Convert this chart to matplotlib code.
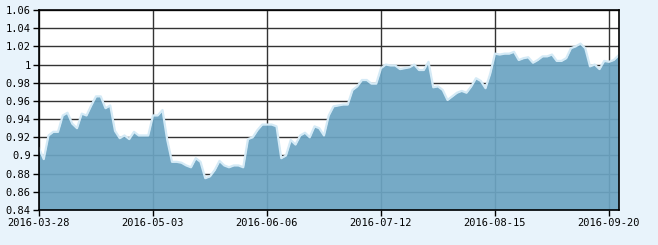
import matplotlib
matplotlib.use("Agg")
import matplotlib.pyplot as plt
import numpy as np

nav = [0.908, 0.896, 0.922, 0.926, 0.926, 0.944, 0.947, 0.935, 0.930, 0.946,
       0.944, 0.955, 0.965, 0.965, 0.952, 0.955, 0.927, 0.919, 0.922, 0.918,
       0.926, 0.922, 0.922, 0.922, 0.944, 0.944, 0.950, 0.917, 0.893, 0.893,
       0.892, 0.889, 0.887, 0.897, 0.893, 0.875, 0.877, 0.884, 0.894, 0.889,
       0.887, 0.889, 0.889, 0.887, 0.918, 0.920, 0.928, 0.934, 0.934, 0.934,
       0.932, 0.897, 0.900, 0.917, 0.912, 0.922, 0.925, 0.920, 0.932, 0.930,
       0.922, 0.944, 0.954, 0.955, 0.956, 0.956, 0.972, 0.976, 0.983, 0.983,
       0.979, 0.979, 0.996, 1.000, 0.999, 0.999, 0.995, 0.996, 0.997, 1.000,
       0.994, 0.994, 1.003, 0.975, 0.976, 0.972, 0.961, 0.965, 0.969, 0.971,
       0.969, 0.976, 0.985, 0.982, 0.974, 0.990, 1.012, 1.011, 1.012, 1.012,
       1.014, 1.005, 1.007, 1.008, 1.002, 1.005, 1.009, 1.009, 1.011, 1.004,
       1.004, 1.007, 1.018, 1.020, 1.023, 1.018, 0.998, 1.000, 0.995, 1.004,
       1.003, 1.005, 1.010]

tick_labels = ["2016-03-28", "2016-05-03", "2016-06-06", "2016-07-12",
               "2016-08-15", "2016-09-20"]
tick_index = [0, 24, 48, 72, 96, 120]
y_ticks = [0.84, 0.86, 0.88, 0.90, 0.92, 0.94, 0.96, 0.98, 1.00, 1.02, 1.04, 1.06]
y_labels = ["0.84", "0.86", "0.88", "0.9", "0.92", "0.94", "0.96", "0.98",
            "1", "1.02", "1.04", "1.06"]

W, H = 658, 245
fig = plt.figure(figsize=(W / 100, H / 100), dpi=100)
fig.patch.set_facecolor("#e8f3fb")
ax = fig.add_axes([39 / W, 35 / H, (618.5 - 39) / W, 200 / H])
ax.set_facecolor("white")

x = np.arange(len(nav))
ax.set_xlim(0, len(nav) - 1)
ax.set_ylim(0.84, 1.06)

ax.set_yticks(y_ticks)
ax.set_yticklabels(y_labels)
ax.set_xticks(tick_index)
ax.set_xticklabels(tick_labels)

ax.grid(True, color="#333333", linewidth=1.0, zorder=0)
ax.set_axisbelow(True)

ax.fill_between(x, 0.84, nav, color="#6ca4c2", alpha=0.93, linewidth=0, zorder=2)
ax.plot(x, nav, color="#d4eaf6", linewidth=1.6, zorder=3)

for s in ax.spines.values():
    s.set_color("black")
    s.set_linewidth(1.2)
    s.set_zorder(5)

ax.tick_params(axis="both", direction="out", length=4, width=1, color="black",
               labelsize=7.5, labelcolor="black", pad=2)
for lab in ax.get_xticklabels() + ax.get_yticklabels():
    lab.set_fontfamily("DejaVu Sans Mono")

fig.savefig("out.png", dpi=100, facecolor=fig.get_facecolor())
